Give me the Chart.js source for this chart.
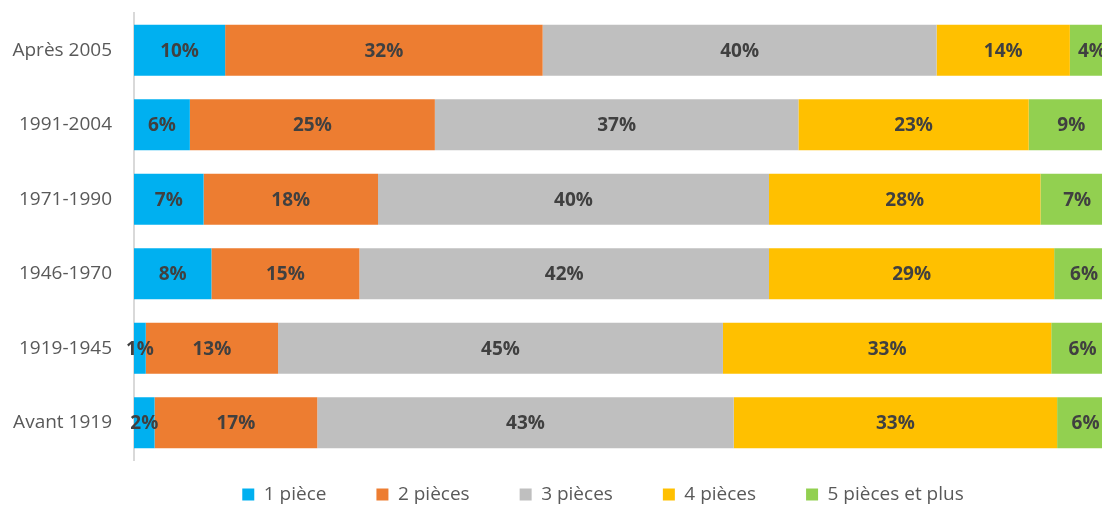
<!DOCTYPE html>
<html>
<head>
<meta charset="utf-8">
<script src="https://cdn.jsdelivr.net/npm/chart.js@4.4.0/dist/chart.umd.min.js"></script>
<style>
  html, body { margin: 0; padding: 0; background: #ffffff; overflow: hidden; }
  #wrap { width: 1102px; height: 505px; }
</style>
</head>
<body>
<div id="wrap"><canvas id="c" width="1102" height="505"></canvas></div>
<script>
// ---- Data ----
const categories = ['Après 2005', '1991-2004', '1971-1990', '1946-1970', '1919-1945', 'Avant 1919'];
const seriesNames = ['1 pièce', '2 pièces', '3 pièces', '4 pièces', '5 pièces et plus'];

const piece1 = [9.3, 5.7, 7.1, 7.9, 1.2, 2.1];
const piece2 = [32.4, 25.0, 17.8, 15.1, 13.5, 16.6];
const piece3 = [40.2, 37.1, 39.9, 41.8, 45.4, 42.5];
const piece4 = [13.6, 23.5, 27.7, 29.1, 33.5, 33.0];
const piece5 = [4.5, 8.7, 7.5, 6.1, 6.4, 5.8];

const label1 = ['10%', '6%', '7%', '8%', '1%', '2%'];
const label2 = ['32%', '25%', '18%', '15%', '13%', '17%'];
const label3 = ['40%', '37%', '40%', '42%', '45%', '43%'];
const label4 = ['14%', '23%', '28%', '29%', '33%', '33%'];
const label5 = ['4%', '9%', '7%', '6%', '6%', '6%'];

const colors = ['#00B0F0', '#ED7D31', '#BFBFBF', '#FFC000', '#92D050'];

const seriesValues = [piece1, piece2, piece3, piece4, piece5];
const seriesLabels = [label1, label2, label3, label4, label5];

const FONT = "'Open Sans', 'Noto Sans', sans-serif";

const barLabelPlugin = {
  id: 'barLabels',
  afterDatasetsDraw(chart) {
    const ctx = chart.ctx;
    ctx.save();
    ctx.font = 'bold 19px ' + FONT;
    ctx.fillStyle = '#404040';
    ctx.textAlign = 'center';
    ctx.textBaseline = 'middle';
    chart.data.datasets.forEach((ds, di) => {
      const meta = chart.getDatasetMeta(di);
      meta.data.forEach((el, i) => {
        const cx = (el.x + el.base) / 2;
        ctx.fillText(ds.valueLabels[i], cx, el.y + 1);
      });
    });
    ctx.restore();
  }
};

const legendShift = {
  id: 'legendShift',
  afterLayout(chart) {
    const lg = chart.legend;
    if (lg) {
      lg.left = 104;
      lg.top = 435;
      lg.bottom = 505;
    }
  }
};

new Chart(document.getElementById('c'), {
  type: 'bar',
  data: {
    labels: categories,
    datasets: seriesNames.map((name, k) => ({
      label: name,
      data: seriesValues[k],
      valueLabels: seriesLabels[k],
      backgroundColor: colors[k],
      borderWidth: 0,
      categoryPercentage: 1,
      barPercentage: 0.685
    }))
  },
  options: {
    indexAxis: 'y',
    responsive: false,
    animation: false,
    layout: { padding: { left: 0, top: 13, right: 0, bottom: 0 } },
    scales: {
      x: {
        stacked: true,
        min: 0,
        max: 98.78,
        display: false
      },
      y: {
        stacked: true,
        grid: { display: false, drawTicks: false },
        border: { display: true, color: '#D9D9D9', width: 2 },
        ticks: {
          color: '#595959',
          font: { family: FONT, size: 19 },
          padding: 22
        },
        afterFit(scale) {
          scale.width = 134;
          scale.paddingTop = 0;
          scale.paddingBottom = 0;
        }
      }
    },
    plugins: {
      legend: {
        position: 'bottom',
        maxHeight: 45,
        labels: {
          boxWidth: 12,
          boxHeight: 12,
          padding: 50,
          color: '#595959',
          font: { family: FONT, size: 19 }
        }
      },
      tooltip: { enabled: false }
    }
  },
  plugins: [barLabelPlugin, legendShift]
});
</script>
</body>
</html>
